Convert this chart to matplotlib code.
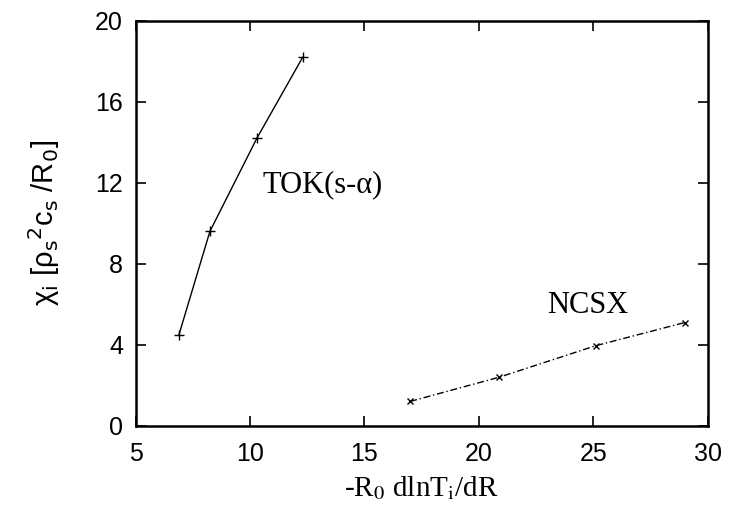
import matplotlib
matplotlib.use("Agg")
import matplotlib.pyplot as plt

# data
tok_x = [6.9, 8.25, 10.3, 12.3]
tok_y = [4.5, 9.6, 14.2, 18.2]
ncsx_x = [17.0, 20.9, 25.1, 29.0]
ncsx_y = [1.2, 2.4, 3.95, 5.1]
x_ticks = [5, 10, 15, 20, 25, 30]
y_ticks = [0, 4, 8, 12, 16, 20]

plt.rcParams["font.family"] = ["Liberation Sans", "DejaVu Sans"]

fig = plt.figure(figsize=(7.48, 5.15), dpi=100)
ax = fig.add_axes([135.5 / 748, 1 - 425.7 / 515, (707.7 - 135.5) / 748, (425.7 - 21) / 515])

ax.plot(tok_x, tok_y, color="black", lw=1.0, marker="+", ms=7, mew=1.0)
ax.plot(ncsx_x, ncsx_y, color="black", lw=1.0, ls=(0, (5, 2, 1, 2)), marker="x", ms=5, mew=1.0)

ax.set_xlim(5, 30)
ax.set_ylim(0, 20)
ax.set_xticks(x_ticks)
ax.set_yticks(y_ticks)
ax.tick_params(direction="in", length=7, width=1.2, top=True, right=True, labelsize=18)
ax.tick_params(axis="x", pad=12)
ax.tick_params(axis="y", pad=9)
for s in ax.spines.values():
    s.set_linewidth(1.8)

ax.text(10.55, 11.9, "TOK(s-α)", family="Liberation Serif", fontsize=22,
        va="center", ha="left")
ax.text(23.0, 5.95, "NCSX", family="Liberation Serif", fontsize=22, va="center", ha="left")

ax.set_xlabel(r"-R$_0$ dlnT$_\mathrm{i}$/dR", family="Liberation Serif", fontsize=21,
              math_fontfamily="stix", labelpad=6)
ax.set_ylabel(r"χ$_\mathrm{i}$ [ρ$_\mathrm{s}$$^2$c$_\mathrm{s}$ /R$_0$]", fontsize=21,
              math_fontfamily="dejavusans", labelpad=24)

fig.savefig("out.png", dpi=100)
